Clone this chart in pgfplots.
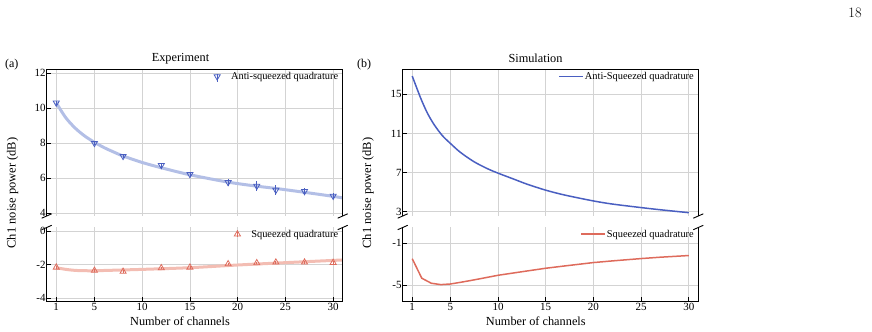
\documentclass[border=0pt]{standalone}
\usepackage{fontspec}
\setmainfont{Liberation Serif}
\newfontfamily\lmfont{Latin Modern Roman}
\usepackage{pgfplots}
\pgfplotsset{compat=1.18}
\definecolor{sblue}{HTML}{4A5FC1}
\definecolor{sred}{HTML}{DE6B5C}
\definecolor{lblue}{HTML}{B3BFE6}
\definecolor{lred}{HTML}{F3BDB3}
\definecolor{gridgray}{HTML}{D3D3D3}
\pgfplotsset{
 panel/.style={
  scale only axis, anchor=south west,
  xmin=0, xmax=31, xtick={1,5,10,15,20,25,30},
  grid=major, major grid style={draw=gridgray, line width=0.8bp},
  axis line style={draw=none},
  tick align=inside, xtick pos=left, ytick pos=left,
  major tick length=4bp,
  tick style={black, line width=0.8bp},
  yticklabel style={font=\fontsize{11bp}{11bp}\selectfont, inner sep=1bp},
  xticklabel style={font=\fontsize{11bp}{11bp}\selectfont, inner sep=2bp},
  clip mode=individual,
  legend style={draw=none, fill=none, at={(rel axis cs:1,1)}, anchor=north east,
    font=\fontsize{10.4bp}{10.4bp}\selectfont, nodes={inner xsep=1bp, inner ysep=1bp},
    inner sep=0pt},
  legend cell align=left,
 },
 upper/.style={panel, height=146.7bp, xticklabels={}, xtick style={draw=none}},
 lower/.style={panel, height=73.5bp, xticklabels={1,5,10,15,20,25,30}},
}
\newcommand{\upperspines}{%
 \draw[line width=1bp, black] (rel axis cs:0,0) -- (rel axis cs:0,1) -- (rel axis cs:1,1) -- (rel axis cs:1,0);
 \draw[line width=0.9bp] ([shift={(-5bp,-2.2bp)}]rel axis cs:0,0) -- ([shift={(5bp,2.2bp)}]rel axis cs:0,0);
 \draw[line width=0.9bp] ([shift={(-5bp,-2.2bp)}]rel axis cs:1,0) -- ([shift={(5bp,2.2bp)}]rel axis cs:1,0);}
\newcommand{\lowerspines}{%
 \draw[line width=1bp, black] (rel axis cs:0,1) -- (rel axis cs:0,0) -- (rel axis cs:1,0) -- (rel axis cs:1,1);
 \draw[line width=0.9bp] ([shift={(-5bp,-2.2bp)}]rel axis cs:0,1) -- ([shift={(5bp,2.2bp)}]rel axis cs:0,1);
 \draw[line width=0.9bp] ([shift={(-5bp,-2.2bp)}]rel axis cs:1,1) -- ([shift={(5bp,2.2bp)}]rel axis cs:1,1);}
\begin{document}
\begin{tikzpicture}
\path (0bp,0bp) rectangle (872bp,332bp);
% ---------- (a) upper
\begin{axis}[upper, at={(46.7bp,116bp)}, width=296bp, ymin=3.85, ymax=12.21,
  ytick={4,6,8,10,12}, yticklabels={4,6,8,10,12},
  legend style={xshift=-3.3bp, yshift=-1.7bp}]
\addplot[lblue, line width=3bp, smooth, forget plot] coordinates {
(1,10.3)(2,9.45)(3,8.85)(4,8.4)(5,8.05)(6,7.75)(7,7.5)(8,7.27)(10,6.9)(12,6.6)(15,6.2)(19,5.78)(22,5.55)(24,5.42)(27,5.2)(30,4.97)(31,4.88)};
\addplot[sblue, only marks, mark=triangle, mark size=3.5bp, forget plot,
  mark options={rotate=180, fill=none, line width=0.8bp},
  error bars/.cd, y dir=both, y explicit, error mark=none,
  error bar style={sblue, line width=0.8bp}]
  coordinates {
(1,10.3) +- (0,0.12) (5,8.0) +- (0,0.12) (8,7.26) +- (0,0.1) (12,6.74) +- (0,0.15)
(15,6.23) +- (0,0.15) (19,5.77) +- (0,0.2) (22,5.56) +- (0,0.3) (24,5.33) +- (0,0.3)
(27,5.26) +- (0,0.2) (30,4.99) +- (0,0.15)};
\addlegendimage{legend image code/.code={
  \draw[sblue, line width=0.8bp] (0bp,-5bp) -- (0bp,2.5bp);
  \path[sblue, line width=0.8bp] plot[only marks, mark=triangle, mark size=3.5bp, mark options={rotate=180}] coordinates {(0bp,0bp)};
  \path (12.7bp,0bp);}}
\addlegendentry{Anti-squeezed quadrature}
\upperspines
\end{axis}
% ---------- (a) lower
\begin{axis}[lower, at={(46.7bp,31bp)}, width=296bp, ymin=-4.16, ymax=0.21,
  ytick={-4,-2,0}, yticklabels={-4,-2,0},
  legend style={xshift=-3.3bp, yshift=-1.1bp}]
\addplot[lred, line width=3bp, smooth, forget plot] coordinates {
(1,-2.18)(2,-2.28)(3,-2.34)(4,-2.36)(5,-2.36)(7,-2.33)(10,-2.28)(15,-2.18)(20,-2.02)(25,-1.88)(31,-1.72)};
\addplot[sred, only marks, mark=triangle, mark size=3.5bp, forget plot,
  mark options={fill=none, line width=0.8bp},
  error bars/.cd, y dir=both, y explicit, error mark=none,
  error bar style={sred, line width=0.8bp}]
  coordinates {
(1,-2.16) +- (0,0.08) (5,-2.35) +- (0,0.08) (8,-2.41) +- (0,0.08) (12,-2.2) +- (0,0.08)
(15,-2.16) +- (0,0.08) (19,-1.96) +- (0,0.08) (22,-1.9) +- (0,0.08) (24,-1.86) +- (0,0.08)
(27,-1.86) +- (0,0.08) (30,-1.88) +- (0,0.08)};
\addlegendimage{legend image code/.code={
  \draw[sred, line width=0.8bp] (0bp,-2.5bp) -- (0bp,2.5bp);
  \path[sred, line width=0.8bp] plot[only marks, mark=triangle, mark size=3.5bp] coordinates {(0bp,0bp)};
  \path (12.7bp,0bp);}}
\addlegendentry{Squeezed quadrature}
\lowerspines
\end{axis}
% ---------- (b) upper
\begin{axis}[upper, at={(402.7bp,116bp)}, width=295.6bp, ymin=2.56, ymax=17.56,
  ytick={3,7,11,15}, yticklabels={3,7,11,15},
  legend style={xshift=-3.3bp, yshift=-1.7bp},
  legend image code/.code={\draw[#1] (0bp,0bp) -- (24bp,0bp);}]
\addplot[sblue, line width=1.5bp, smooth] coordinates {
(1,16.87)(1.87,14.65)(2.57,13.12)(3.27,11.94)(4.14,10.8)(5.09,9.9)(6.06,9.06)(7.46,8.12)(8.86,7.41)(10,6.94)(11.65,6.33)(13,5.83)(15,5.2)(17,4.7)(20,4.1)(22,3.78)(25,3.42)(27,3.2)(30,2.9)};
\addlegendentry{Anti-Squeezed quadrature}
\upperspines
\end{axis}
% ---------- (b) lower
\begin{axis}[lower, at={(402.7bp,31bp)}, width=295.6bp, ymin=-6.5, ymax=0.5,
  ytick={-5,-1}, yticklabels={-5,-1},
  legend style={xshift=-3.3bp, yshift=-1.1bp},
  legend image code/.code={\draw[#1] (0bp,0bp) -- (24bp,0bp);}]
\addplot[sred, line width=1.5bp] coordinates {
(1,-2.47)(2,-4.33)(3,-4.81)(4,-4.94)(5,-4.88)(6,-4.73)(7,-4.57)(8,-4.4)(10,-4.05)(12,-3.78)(15,-3.38)(17,-3.16)(20,-2.84)(22,-2.68)(25,-2.46)(27,-2.33)(30,-2.17)};
\addlegendentry{Squeezed quadrature}
\lowerspines
\end{axis}
% ---------- texts
\begin{scope}[x=1bp,y=1bp]
\node[font=\fontsize{12.3bp}{12.3bp}\selectfont] at (180.5,273.7) {Experiment};
\node[font=\fontsize{12.3bp}{12.3bp}\selectfont] at (535.5,273.7) {Simulation};
\node[font=\fontsize{12bp}{12bp}\selectfont] at (11.7,267.7) {(a)};
\node[font=\fontsize{12bp}{12bp}\selectfont] at (364,267.7) {(b)};
\node[font=\fontsize{12.5bp}{12.5bp}\selectfont, rotate=90] at (12.5,139) {Ch1 noise power (dB)};
\node[font=\fontsize{12.5bp}{12.5bp}\selectfont, rotate=90] at (368,139) {Ch1 noise power (dB)};
\node[font=\fontsize{12.3bp}{12.3bp}\selectfont] at (180,10.3) {Number of channels};
\node[font=\fontsize{12.3bp}{12.3bp}\selectfont] at (535.8,10.3) {Number of channels};
\node[font=\lmfont\fontsize{14.4bp}{14.4bp}\selectfont] at (855,318.7) {18};
\end{scope}
\useasboundingbox (0bp,0bp) rectangle (872bp,332bp);
\end{tikzpicture}
\end{document}
